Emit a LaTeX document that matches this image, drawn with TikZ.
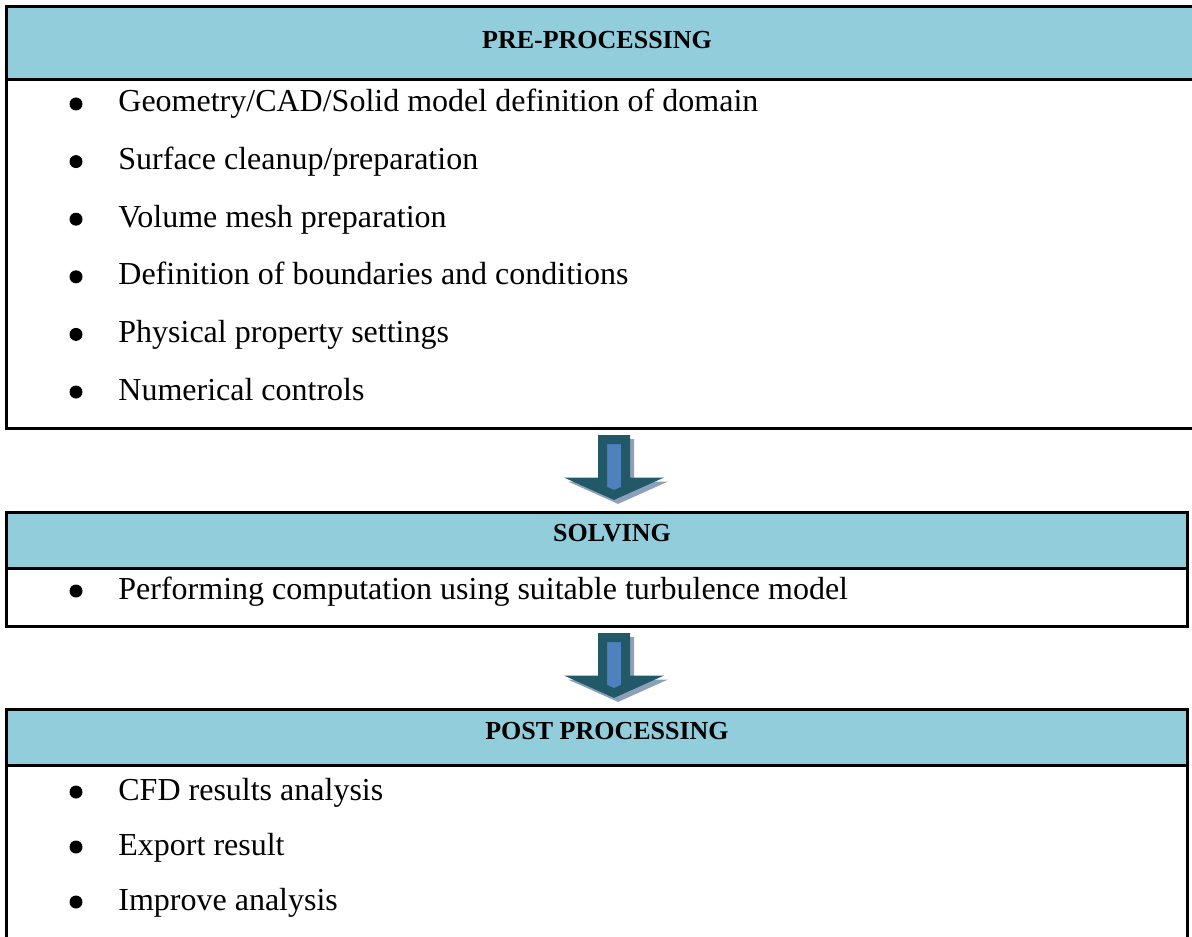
\documentclass[tikz,border=0pt]{standalone}
\usepackage{fontspec}
\setmainfont{Liberation Serif}
\usetikzlibrary{positioning}

\definecolor{headfill}{RGB}{146,205,220}
\definecolor{arrowline}{RGB}{33,89,104}
\definecolor{arrowfill}{RGB}{79,129,189}
\definecolor{arrowshade}{RGB}{141,160,186}

\tikzset{downarrow/.pic={
  \draw[arrowshade,fill=arrowshade,line width=4.5pt] (-7.5,8.5) -- (15.5,8.5) -- (15.5,51) -- (33,51) -- (4,64) -- (-25,51) -- (-7.5,51) -- cycle;
  \draw[arrowline,fill=arrowfill,line width=4.5pt] (-11.5,4.5) -- (11.5,4.5) -- (11.5,47) -- (29,47) -- (0,60) -- (-29,47) -- (-11.5,47) -- cycle;
}}

\begin{document}
\begin{tikzpicture}[x=0.5pt,y=-0.5pt]
\tikzstyle{head}=[draw,line width=1.5pt,fill=headfill,anchor=north west,inner sep=0pt,outer sep=0pt]
\tikzstyle{panel}=[draw,line width=1.5pt,anchor=north west,inner sep=0pt,outer sep=0pt]
\tikzstyle{title}=[font=\fontsize{13}{15}\selectfont\bfseries,anchor=base]
\tikzstyle{item}=[font=\fontsize{16}{19}\selectfont,anchor=base west,inner sep=0pt]
\tikzstyle{dot}=[circle,fill,inner sep=0pt,minimum size=6.5pt]
\useasboundingbox (0,0) rectangle (1192,936);

% pre-processing
\node[head,minimum width=597pt,minimum height=36.5pt] (pre) at (6,7) {};
\node[panel,minimum width=597pt,minimum height=174pt] (prebody) at (pre.south west) {};
\node[title] (pretitle) at (597,49) {PRE-PROCESSING};
\foreach \t [count=\i] in {Geometry/CAD/Solid model definition of domain,
  Surface cleanup/preparation, Volume mesh preparation,
  Definition of boundaries and conditions, Physical property settings,
  Numerical controls}{
  \node[dot] (predot\i) at (76,46.4+57.6*\i) {};
  \node[item] (preitem\i) at (118,54.4+57.6*\i) {\t};
}

% solving
\node[head,minimum width=590.5pt,minimum height=28pt] (solve) at (6,512) {};
\node[panel,minimum width=590.5pt,minimum height=29pt] (solvebody) at (solve.south west) {};
\node[title] (solvetitle) at (612,541) {SOLVING};
\node[dot] (solvedot1) at (76,591) {};
\node[item] (solveitem1) at (118,599) {Performing computation using suitable turbulence model};

% post processing
\node[head,minimum width=590.5pt,minimum height=28pt] (post) at (6,709) {};
\node[panel,minimum width=590.5pt,minimum height=92.5pt] (postbody) at (post.south west) {};
\node[title] (posttitle) at (607,739) {POST PROCESSING};
\foreach \t [count=\i] in {CFD results analysis, Export result, Improve analysis}{
  \node[dot] (postdot\i) at (76,737+55*\i) {};
  \node[item] (postitem\i) at (118,745+55*\i) {\t};
}

\pic at ([xshift=5.5pt,yshift=-3.5pt]prebody.south) {downarrow};
\pic at ([xshift=8.75pt,yshift=-3.5pt]solvebody.south) {downarrow};
\end{tikzpicture}
\end{document}
